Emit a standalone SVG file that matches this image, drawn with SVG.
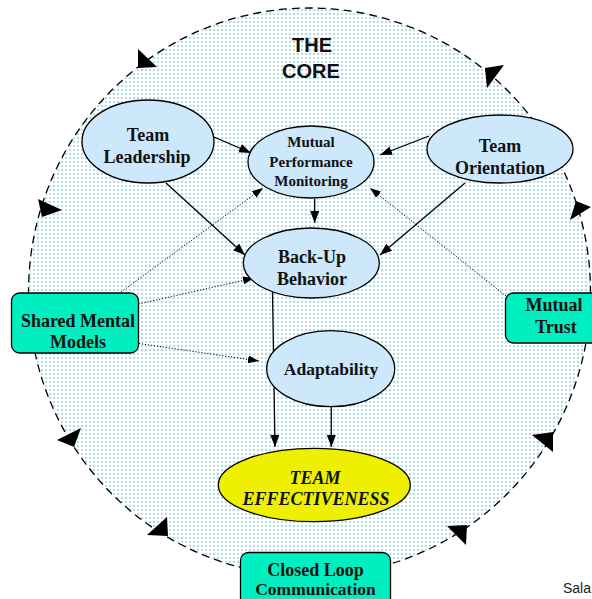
<svg xmlns="http://www.w3.org/2000/svg" width="592" height="599" viewBox="0 0 592 599">
<style>
.node{fill:#cce8fa;stroke:#000;stroke-width:1.3}
.box{fill:#00efc0;stroke:#000;stroke-width:1.3}
.t{font-family:"Liberation Serif","Times New Roman",serif;font-weight:bold;fill:#111;text-anchor:middle}
.solid{stroke:#000;stroke-width:1.3;fill:none;marker-end:url(#ah)}
.dot{stroke:#000;stroke-width:1;stroke-dasharray:1.2 1.8;fill:none;marker-end:url(#ahs)}
.tri{fill:#000}
</style>
<defs>
<pattern id="dots" width="4" height="4" patternUnits="userSpaceOnUse">
<rect width="4" height="4" fill="#fff"/>
<rect x="1" y="1" width="2" height="2" fill="#b2dde5"/>
</pattern>
<marker id="ah" markerUnits="userSpaceOnUse" markerWidth="13" markerHeight="10" refX="12" refY="4.5" orient="auto">
<path d="M0,0 L12,4.5 L0,9 z" fill="#000"/>
</marker>
<marker id="ahs" markerUnits="userSpaceOnUse" markerWidth="12" markerHeight="10" refX="11" refY="4" orient="auto">
<path d="M0,0 L11,4 L0,8 z" fill="#000"/>
</marker>
</defs>
<g id="core-circle">
<ellipse cx="309.5" cy="292" rx="281" ry="284" fill="url(#dots)" stroke="#000" stroke-width="1.3" stroke-dasharray="8 5"/>
<polygon class="tri" points="138,49 157,67 138,68"/>
<polygon class="tri" points="485,68 504,65 487,88"/>
<polygon class="tri" points="576,201 591,207 570,220"/>
<polygon class="tri" points="532,435 553,432 553,452"/>
<polygon class="tri" points="447,526 467,525 466,545"/>
<polygon class="tri" points="167,517 168,536 147,535"/>
<polygon class="tri" points="81,428 57,440 74,447"/>
<polygon class="tri" points="38,199 62,210 42,217"/>
<text x="312" y="52" font-family="'Liberation Sans',Arial,sans-serif" font-weight="bold" font-size="20" text-anchor="middle" fill="#111">THE</text>
<text x="311" y="78" font-family="'Liberation Sans',Arial,sans-serif" font-weight="bold" font-size="20" text-anchor="middle" fill="#111">CORE</text>
</g>
<g id="connectors">
<line class="solid" x1="214" y1="137" x2="251" y2="153"/>
<line class="solid" x1="166" y1="183" x2="245" y2="255"/>
<line class="solid" x1="429" y1="136" x2="380" y2="155"/>
<line class="solid" x1="465" y1="183" x2="380" y2="255"/>
<line class="solid" x1="314.7" y1="199" x2="314.7" y2="223"/>
<line class="solid" x1="272.5" y1="291" x2="275" y2="447"/>
<line class="solid" x1="331.3" y1="407" x2="331.3" y2="447"/>
<line class="dot" x1="121" y1="292" x2="263" y2="188"/>
<line class="dot" x1="138.5" y1="304" x2="254" y2="278"/>
<line class="dot" x1="139" y1="343.5" x2="259" y2="361"/>
<line class="dot" x1="506" y1="296" x2="370" y2="188"/>
</g>
<g id="team-leadership">
<ellipse class="node" cx="148" cy="141.5" rx="66" ry="41.5"/>
<text class="t" x="148" y="141" font-size="18">Team</text>
<text class="t" x="147" y="163" font-size="18">Leadership</text>
</g>
<g id="mutual-performance-monitoring">
<ellipse class="node" cx="311" cy="162" rx="63" ry="36"/>
<text class="t" x="311" y="147" font-size="15">Mutual</text>
<text class="t" x="311" y="167" font-size="15">Performance</text>
<text class="t" x="311" y="186" font-size="15">Monitoring</text>
</g>
<g id="team-orientation">
<ellipse class="node" cx="500" cy="149" rx="73" ry="34"/>
<text class="t" x="500" y="152" font-size="18">Team</text>
<text class="t" x="500" y="174" font-size="18">Orientation</text>
</g>
<g id="back-up-behavior">
<ellipse class="node" cx="311.3" cy="263" rx="68" ry="35"/>
<text class="t" x="312" y="263" font-size="18">Back-Up</text>
<text class="t" x="312" y="285" font-size="18">Behavior</text>
</g>
<g id="adaptability">
<ellipse class="node" cx="330.7" cy="368.7" rx="64" ry="38"/>
<text class="t" x="331" y="375" font-size="17.5">Adaptability</text>
</g>
<g id="team-effectiveness">
<ellipse cx="314.3" cy="485" rx="96" ry="36.7" fill="#eef000" stroke="#000" stroke-width="1.3"/>
<text class="t" x="315" y="484" font-size="18" font-style="italic">TEAM</text>
<text class="t" x="316" y="505" font-size="18" font-style="italic">EFFECTIVENESS</text>
</g>
<g id="shared-mental-models">
<rect class="box" x="11.5" y="293" width="127" height="60" rx="8"/>
<text class="t" x="78" y="327" font-size="18">Shared Mental</text>
<text class="t" x="78" y="348" font-size="18">Models</text>
</g>
<g id="mutual-trust">
<rect class="box" x="505.5" y="293" width="100" height="50" rx="8"/>
<text class="t" x="554" y="311" font-size="18">Mutual</text>
<text class="t" x="556" y="333" font-size="18">Trust</text>
</g>
<g id="closed-loop-communication">
<rect class="box" x="240.5" y="552.5" width="150" height="60" rx="8"/>
<text class="t" x="315.5" y="576" font-size="18">Closed Loop</text>
<text class="t" x="315.5" y="595" font-size="17.5">Communication</text>
</g>
<text x="563" y="593" font-family="'Liberation Sans',Arial,sans-serif" font-size="14" fill="#222">Sala</text>
</svg>
